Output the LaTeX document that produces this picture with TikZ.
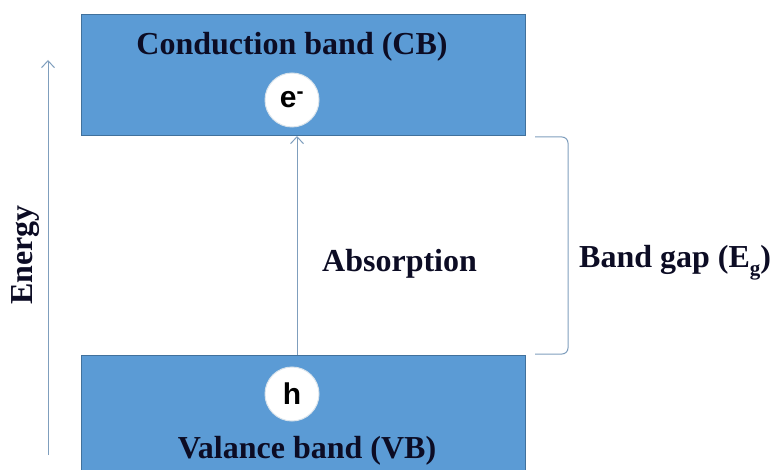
\documentclass[tikz,border=0pt]{standalone}
\usepackage{fontspec}
\setmainfont{Liberation Serif}
\newfontfamily\sansf{Liberation Sans}
\usetikzlibrary{arrows.meta}
\definecolor{bandfill}{HTML}{5B9BD5}
\definecolor{bandedge}{HTML}{41719C}
\definecolor{txtcol}{HTML}{0C0C24}
\definecolor{linecol}{HTML}{7F9EBD}
\tikzset{
  band/.style={draw=bandedge, fill=bandfill, line width=1pt, minimum width=444pt, inner sep=0pt},
  carrier/.style={circle, draw=white!80!bandedge, fill=white, line width=1pt, minimum size=54pt, inner sep=0pt, font=\sansf\bfseries\fontsize{30}{30}\selectfont, text=black},
  lbl/.style={font=\bfseries\fontsize{32}{32}\selectfont, text=txtcol, inner sep=0pt},
  arr/.style={draw=linecol, line width=1pt, -{Straight Barb[length=7pt,width=13pt]}},
  brace/.style={draw=linecol, line width=1pt, rounded corners=6pt}
}
\begin{document}
\begin{tikzpicture}[x=1pt,y=-1pt]
\useasboundingbox (0,0) rectangle (776,470);
\node[band, minimum height=121pt] (cb) at (303,75.5) {};
\node[band, minimum height=120pt] (vb) at (303,415) {};
\node[lbl, anchor=base] (cbt) at (292,55) {Conduction band (CB)};
\node[lbl, anchor=base] (vbt) at (307,458) {Valance band (VB)};
\node[carrier] (e) at (292,100) {e\textsuperscript{-}};
\node[carrier] (h) at (292,394) {h};
\coordinate (abot) at (297,355);
\coordinate (atop) at (297,136);
\draw[arr] (abot) -- (atop);
\node[lbl, anchor=base west] (abs) at (322,272) {Absorption};
\coordinate (eb) at (48,455);
\coordinate (et) at (48,60);
\draw[arr] (eb) -- (et);
\node[lbl, rotate=90, anchor=base] (en) at (32,255) {Energy};
\coordinate (b1) at (535,137);
\coordinate (b2) at (568,137);
\coordinate (b3) at (568,354);
\coordinate (b4) at (535,354);
\draw[brace] (b1) -- (b2) -- (b3) -- (b4);
\node[lbl, anchor=base west] (bg) at (579,268) {Band gap (E\raisebox{-0.22em}{\fontsize{21}{21}\selectfont g})};
\end{tikzpicture}
\end{document}
